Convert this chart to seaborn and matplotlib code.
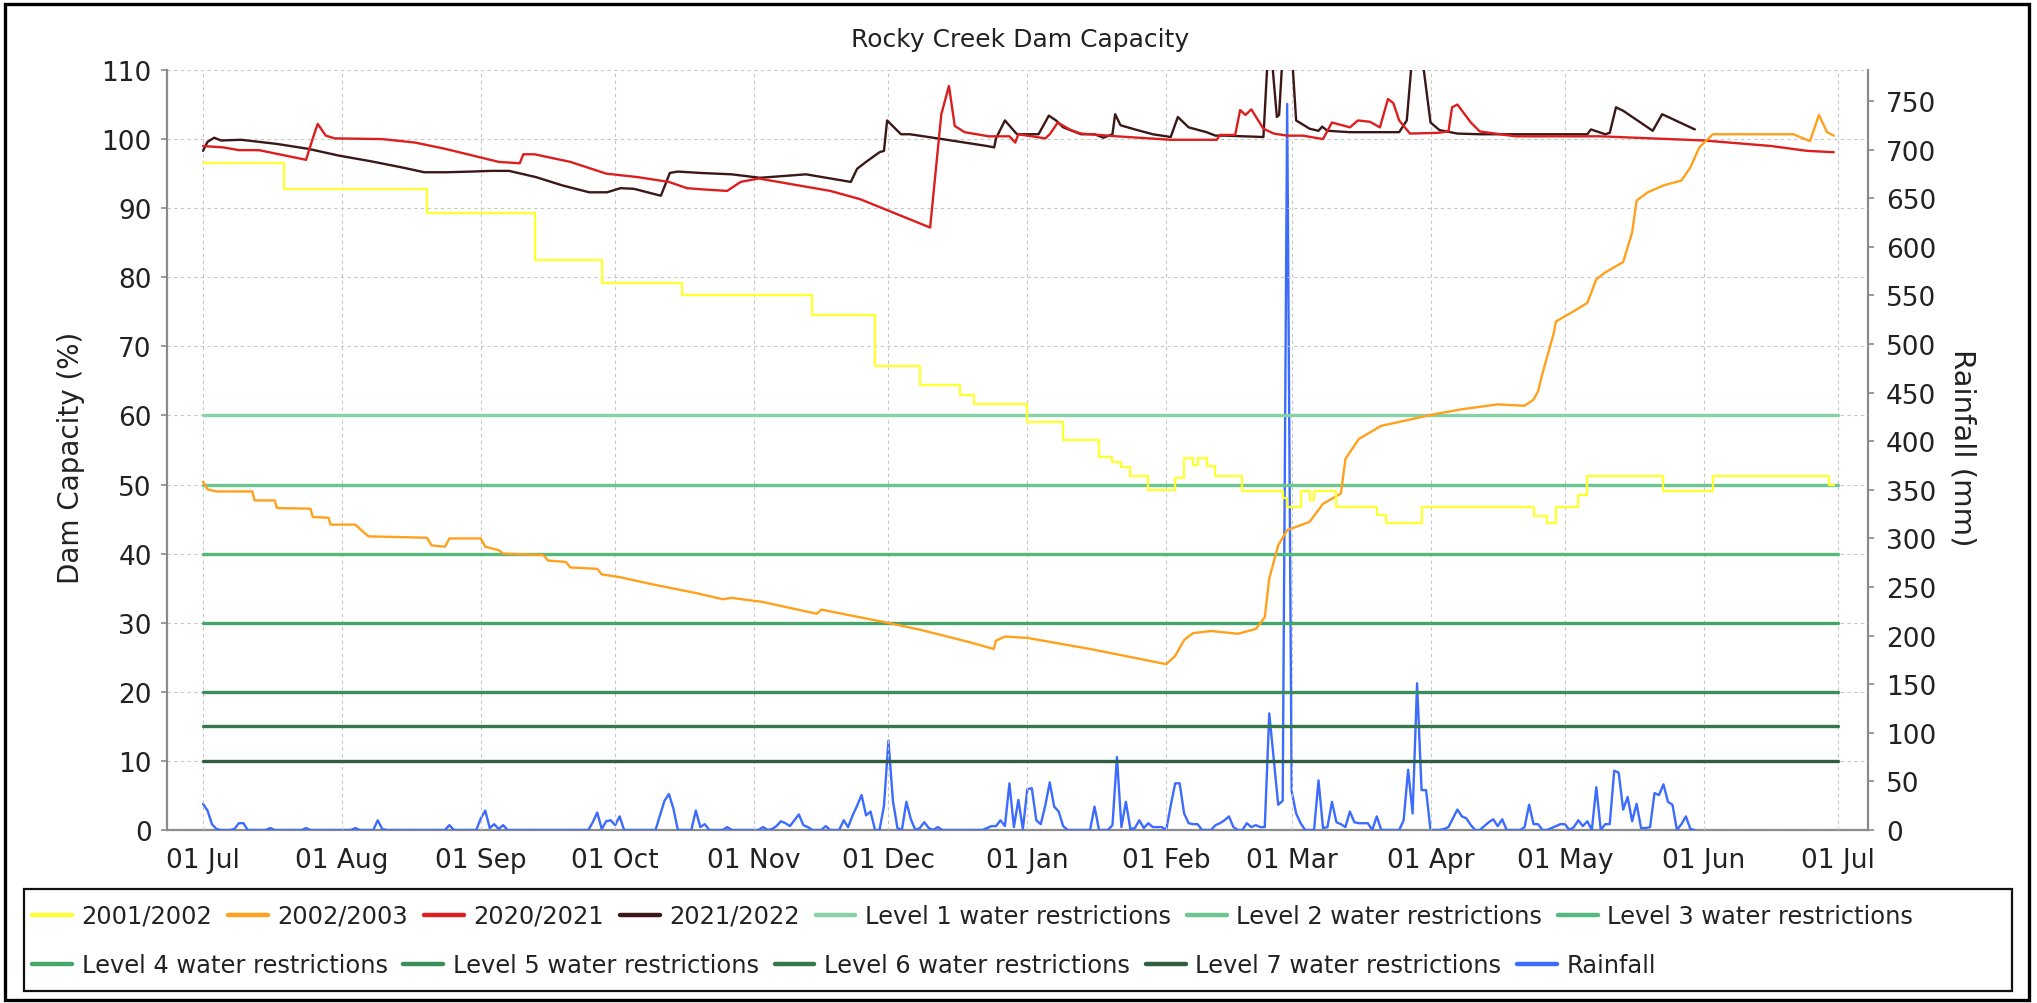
import pandas as pd
import matplotlib
matplotlib.use('Agg')
import matplotlib.pyplot as plt
import matplotlib.dates as mdates
from matplotlib.lines import Line2D
from matplotlib.patches import Rectangle
import seaborn as sns

# ---- data ----
# dam series: day of season (0 = 01 Jul) and capacity (%)
days_0102 = [0, 18, 50, 74, 89, 107, 136, 150, 160, 169, 172, 184, 192, 200, 203, 205, 207,
             211, 217, 219, 221, 222, 224, 226, 232, 241, 242, 245, 247, 248, 253, 262, 264,
             272, 297, 300, 302, 307, 309, 326, 337, 363, 364]
pct_0102 = [96.5, 92.8, 89.3, 82.5, 79.2, 77.4, 74.6, 67.1, 64.4, 63.0, 61.7, 59.0, 56.5, 54.0,
            53.3, 52.5, 51.3, 49.2, 51.0, 53.8, 52.8, 53.8, 52.7, 51.2, 49.1, 48.0, 46.8, 49.0,
            47.8, 49.0, 46.8, 45.6, 44.4, 46.8, 45.5, 44.4, 46.8, 48.5, 51.2, 49.1, 51.2, 50.0, 50.0]

days_0203 = [0, 1, 3, 11, 11.5, 16, 16.5, 24, 24.5, 28, 28.5, 34, 36, 37, 50, 51, 54, 55, 62,
             63, 66, 67, 76, 77, 81, 82, 88, 89, 93, 100, 110, 116, 118, 125, 132, 137, 138,
             145, 152, 160, 171, 176.5, 177, 179, 184, 198, 215, 217, 219, 221, 225, 231, 235,
             237, 238, 240, 242, 247, 250, 254, 255, 258, 263, 275, 281, 289, 295, 297, 298,
             299, 301.5, 302, 306, 309, 311, 313, 317, 319, 320, 322.5, 326, 330, 332, 334,
             337, 355, 358.7, 360.7, 362.5, 364]
pct_0203 = [50.4, 49.3, 49.0, 49.0, 47.7, 47.7, 46.6, 46.5, 45.3, 45.2, 44.2, 44.2, 43.0, 42.5,
            42.3, 41.2, 41.0, 42.2, 42.2, 41.0, 40.5, 40.0, 39.8, 39.0, 38.8, 38.0, 37.8, 37.0,
            36.6, 35.6, 34.3, 33.4, 33.6, 33.0, 32.0, 31.3, 31.9, 31.0, 30.1, 29.0, 27.2, 26.2,
            27.4, 28.0, 27.8, 26.2, 24.0, 25.2, 27.5, 28.5, 28.8, 28.4, 29.1, 30.8, 36.4, 41.2,
            43.4, 44.6, 47.2, 48.7, 53.7, 56.6, 58.5, 60.2, 60.9, 61.6, 61.4, 62.3, 63.5, 66.1,
            71.9, 73.6, 75.1, 76.3, 79.7, 80.7, 82.2, 86.5, 91.1, 92.3, 93.3, 94.0, 95.9, 98.8,
            100.7, 100.7, 99.7, 103.5, 101.0, 100.5]

days_2021 = [0, 4.5, 8, 12.5, 17, 23, 24.4, 25.6, 27.4, 29.4, 40, 47.3, 54, 66, 70.7, 71.5, 74,
             82, 90, 97, 104, 108, 112, 117, 120, 124, 132, 140, 146.7, 152, 162.3, 164.8,
             166.5, 167.8, 170, 175.4, 180, 181.3, 182, 188, 189, 190.8, 193.7, 196, 204, 216,
             226.3, 227, 230.4, 231.5, 232.7, 234, 236.7, 239, 242, 245.5, 250, 252, 256, 257.8,
             260.5, 262.7, 264.5, 265.7, 267, 269.4, 275.5, 278, 278.8, 280, 283, 285, 293, 312,
             335, 350, 358, 364]
pct_2021 = [99.0, 98.8, 98.4, 98.4, 97.8, 97.0, 99.9, 102.2, 100.5, 100.1, 100.0, 99.5, 98.6,
            96.7, 96.5, 97.8, 97.8, 96.7, 95.0, 94.5, 93.8, 92.9, 92.7, 92.5, 93.8, 94.3, 93.4,
            92.5, 91.3, 89.9, 87.2, 103.6, 107.7, 101.9, 101.0, 100.4, 100.4, 99.5, 100.7, 100.1,
            100.7, 102.4, 101.3, 100.8, 100.4, 99.9, 99.9, 100.6, 100.6, 104.2, 103.5, 104.3,
            101.5, 100.8, 100.5, 100.5, 100.0, 102.4, 101.7, 102.7, 102.5, 101.7, 105.8, 105.2,
            102.7, 100.8, 100.9, 101.1, 104.6, 105.0, 102.4, 101.1, 100.4, 100.4, 99.8, 99.0,
            98.3, 98.1]

days_2122 = [0, 1, 2.5, 4, 8.5, 16.5, 23.4, 30.4, 37.4, 44.4, 49.4, 54.3, 60, 64.3, 68.3, 74.3,
             80.2, 86.2, 90.2, 93.2, 96.2, 101, 102.2, 104.2, 106, 111, 118, 124.3, 134.6, 144.6,
             146, 148, 151, 152, 152.7, 155.8, 157.8, 164, 169, 175, 176.6, 177, 179, 181, 181.7,
             186.5, 188.8, 190.4, 192, 196, 199, 201, 203, 203.6, 204.8, 208, 212, 216, 217.6,
             220, 224, 226, 228, 236.7, 238, 239.7, 240.2, 241.5, 242.5, 244, 247, 249, 249.8,
             251, 256, 267, 268.7, 270.3, 271.5, 274, 276, 280, 285, 309, 309.8, 313, 314, 315.4,
             317, 323.6, 325.7, 327.7, 331, 333]
pct_2122 = [98.3, 99.6, 100.2, 99.8, 99.9, 99.3, 98.6, 97.6, 96.8, 95.9, 95.2, 95.2, 95.3, 95.4,
            95.4, 94.5, 93.3, 92.3, 92.3, 92.9, 92.8, 92.0, 91.8, 95.1, 95.3, 95.1, 94.9, 94.4,
            94.9, 93.8, 95.7, 96.7, 98.1, 98.3, 102.7, 100.7, 100.7, 100.1, 99.6, 99.0, 98.8,
            100.1, 102.7, 101.2, 100.7, 100.7, 103.4, 102.7, 101.7, 100.7, 100.7, 100.2, 100.7,
            103.6, 102.0, 101.4, 100.7, 100.3, 103.2, 101.7, 101.0, 100.5, 100.5, 100.3, 116.0,
            103.2, 103.5, 118.0, 118.0, 102.7, 101.5, 101.2, 101.8, 101.2, 101.0, 101.0, 102.7,
            115.0, 115.0, 102.4, 101.3, 100.8, 100.7, 100.7, 101.4, 100.7, 100.9, 104.6, 104.1,
            101.2, 103.6, 103.0, 102.0, 101.4]

# daily rainfall (mm), 01 Jul 2021 onwards, one list per month
rain_jul = [27, 20, 6, 1, 0, 0, 0, 1, 7, 7, 0, 0, 0, 0, 0, 2, 0, 0, 0, 0,
            0, 0, 0, 2, 0, 0, 0, 0, 0, 0, 0]
rain_aug = [0, 0, 0, 2, 0, 0, 0, 0, 10, 1, 0, 0, 0, 0, 0, 0, 0, 0, 0, 0,
            0, 0, 0, 0, 5, 0, 0, 0, 0, 0, 0]
rain_sep = [12, 20, 2, 6, 1, 5, 0, 0, 0, 0, 0, 0, 0, 0, 0, 0, 0, 0, 0, 0,
            0, 0, 0, 0, 0, 8, 18, 1, 9, 10]
rain_oct = [5, 14, 0, 0, 0, 0, 0, 0, 0, 0, 15, 30, 37, 22, 0, 0, 0, 0, 20, 3,
            6, 0, 0, 0, 0, 3, 0, 0, 0, 0, 0]
rain_nov = [0, 0, 3, 0, 1, 4, 9, 7, 4, 10, 16, 5, 3, 0, 0, 0, 4, 0, 0, 0,
            10, 3, 15, 25, 36, 15, 19, 0, 0, 25]
rain_dec = [92, 30, 2, 0, 29, 11, 0, 2, 8, 2, 0, 3, 0, 0, 0, 0, 0, 0, 0, 0,
            0, 0, 2, 4, 4, 10, 4, 48, 3, 31, 1]
rain_jan = [42, 43, 10, 6, 25, 49, 24, 19, 4, 0, 0, 0, 0, 0, 0, 24, 0, 0, 0, 5,
            75, 3, 29, 1, 2, 10, 2, 7, 3, 3, 3]
rain_feb = [0, 25, 48, 48, 17, 7, 6, 6, 0, 0, 0, 5, 7, 10, 14, 3, 0, 0, 7, 3,
            5, 3, 3, 120, 73, 26, 30, 747]
rain_mar = [40, 17, 7, 0, 0, 0, 51, 2, 3, 29, 8, 6, 3, 19, 8, 7, 7, 7, 0, 14,
            0, 0, 0, 0, 0, 10, 62, 17, 151, 41, 41]
rain_apr = [0, 0, 0, 1, 3, 12, 21, 14, 12, 5, 0, 0, 4, 8, 11, 4, 11, 0, 0, 0,
            0, 3, 26, 6, 6, 0, 0, 2, 4, 6]
rain_may = [6, 0, 3, 10, 4, 9, 0, 44, 0, 6, 6, 61, 59, 21, 34, 9, 27, 2, 2, 3,
            38, 36, 47, 29, 26, 0, 6, 14, 1, 0]

level_names = ['Level 1 water restrictions', 'Level 2 water restrictions',
               'Level 3 water restrictions', 'Level 4 water restrictions',
               'Level 5 water restrictions', 'Level 6 water restrictions',
               'Level 7 water restrictions']
level_pct = [60, 50, 40, 30, 20, 15, 10]
level_colors = ['#86d2a5', '#6cc690', '#55b97c', '#45a56a', '#3a8e5a', '#33774b', '#2e5d40']

season_names = ['2001/2002', '2002/2003', '2020/2021', '2021/2022']
season_colors = ['#ffff33', '#ffa11c', '#dc1e1e', '#3d1717']
rain_color = '#3b6bff'

# ---- build frames ----
start = pd.Timestamp('2021-07-01')


def to_dates(days):
    return start + pd.to_timedelta(days, unit='D')


seasons = {
    '2001/2002': (days_0102, pct_0102),
    '2002/2003': (days_0203, pct_0203),
    '2020/2021': (days_2021, pct_2021),
    '2021/2022': (days_2122, pct_2122),
}

rain = (rain_jul + rain_aug + rain_sep + rain_oct + rain_nov + rain_dec +
        rain_jan + rain_feb + rain_mar + rain_apr + rain_may)
rain_df = pd.DataFrame({'date': pd.date_range(start, periods=len(rain), freq='D'), 'mm': rain})

lv_rows = []
for name, v in zip(level_names, level_pct):
    lv_rows.append({'date': start, 'pct': v, 'level': name})
    lv_rows.append({'date': start + pd.Timedelta(days=365), 'pct': v, 'level': name})
lv_df = pd.DataFrame(lv_rows)

# ---- plot ----
sns.set_theme(style='white')
plt.rcParams['font.family'] = ['DejaVu Sans']
txt = '#222222'
axc = '#8a8a8a'

W, H = 2037, 1004
fig = plt.figure(figsize=(W / 100, H / 100), dpi=100)
ax = fig.add_axes([167 / W, 1 - 831 / H, (1868 - 167) / W, (831 - 71) / H])
ax2 = ax.twinx()
ax.set_zorder(ax2.get_zorder() + 1)
ax.patch.set_visible(False)

# rainfall on the secondary axis (drawn underneath, but over the x axis line)
sns.lineplot(data=rain_df, x='date', y='mm', ax=ax2, color=rain_color, lw=1.7,
             estimator=None, legend=False, zorder=3)

# restriction levels
sns.lineplot(data=lv_df, x='date', y='pct', hue='level', hue_order=level_names,
             palette=level_colors, ax=ax, lw=2.4, estimator=None, legend=False, zorder=2)

# dam capacity seasons, later ones drawn first
for i in [3, 2, 1, 0]:
    name = season_names[i]
    d, p = seasons[name]
    df = pd.DataFrame({'date': to_dates(d), 'pct': p})
    kw = {'drawstyle': 'steps-post'} if name == '2001/2002' else {}
    sns.lineplot(data=df, x='date', y='pct', ax=ax, color=season_colors[i], lw=1.7,
                 estimator=None, legend=False, zorder=3 + (3 - i), **kw)

# axes limits / ticks
ax.set_xlim(start - pd.Timedelta(days=8.04), start + pd.Timedelta(days=371.65))
ax2.set_xlim(ax.get_xlim())
ax.set_ylim(0, 110)
ax2.set_ylim(0, 782)
ax.set_yticks(range(0, 111, 10))
ax2.set_yticks(range(0, 751, 50))
ax.xaxis.set_major_locator(mdates.MonthLocator())
ax.xaxis.set_major_formatter(mdates.DateFormatter('%d %b'))

for a in (ax, ax2):
    a.tick_params(axis='both', which='major', labelsize=19, labelcolor=txt, colors=axc,
                  length=4, width=1.2, direction='out')
    a.set_xlabel('')
    for s in a.spines.values():
        s.set_visible(False)
ax.tick_params(axis='x', pad=8)
ax.tick_params(axis='y', pad=7)
ax2.tick_params(axis='y', pad=9)
ax.spines['left'].set_visible(True)
ax2.spines['bottom'].set_visible(True)
ax2.spines['right'].set_visible(True)
for s in (ax.spines['left'], ax2.spines['bottom'], ax2.spines['right']):
    s.set_color(axc)
    s.set_linewidth(1.6)
for lab in ax.get_xticklabels() + ax.get_yticklabels() + ax2.get_yticklabels():
    lab.set_color(txt)

ax.grid(True, axis='both', color='#c6c6c6', lw=0.8, ls=(0, (3, 3)))
ax2.grid(False)

ax.set_ylabel('Dam Capacity (%)', fontsize=20, color=txt, va='center')
ax.yaxis.set_label_coords((71 - 167) / (1868 - 167), (831 - 458) / 760)
ax2.set_ylabel('Rainfall (mm)', fontsize=21, color=txt, rotation=270, va='center')
ax2.yaxis.set_label_coords((1962 - 167) / (1868 - 167), (831 - 448) / 760)

fig.text(1020 / W, 1 - 40 / H, 'Rocky Creek Dam Capacity', ha='center', va='center',
         fontsize=18, color=txt)


# legend: two left-aligned rows inside one box
def handle(c):
    return Line2D([0], [0], color=c, lw=3.2)


row1_labels = season_names + level_names[:3]
row1_handles = [handle(c) for c in season_colors] + [handle(c) for c in level_colors[:3]]
row2_labels = level_names[3:] + ['Rainfall']
row2_handles = [handle(c) for c in level_colors[3:]] + [handle(rain_color)]

leg_kw = dict(loc='center left', frameon=False, fontsize=17.4, handlelength=1.65,
              handletextpad=0.4, columnspacing=0.65, borderpad=0, borderaxespad=0,
              labelcolor=txt)
fig.legend(row1_handles, row1_labels, ncol=7, bbox_to_anchor=(32 / W, 1 - 917 / H), **leg_kw)
fig.legend(row2_handles, row2_labels, ncol=5, bbox_to_anchor=(32 / W, 1 - 966 / H), **leg_kw)

fig.patches.append(Rectangle((24 / W, 1 - 992 / H), (2012 - 24) / W, (992 - 890) / H,
                             transform=fig.transFigure, fill=False, ec='#111111', lw=1.6))
fig.patches.append(Rectangle((5 / W, 1 - 1001 / H), (2029 - 5) / W, (1001 - 5) / H,
                             transform=fig.transFigure, fill=False, ec='#000000', lw=2.4))

fig.savefig('out.png', dpi=100)
